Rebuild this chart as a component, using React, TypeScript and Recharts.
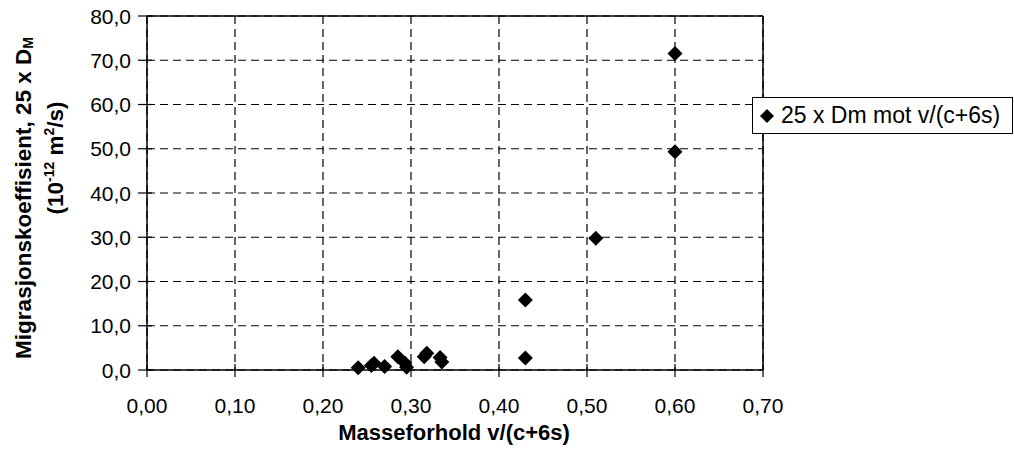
import { ScatterChart, Scatter, XAxis, YAxis, CartesianGrid, ReferenceLine } from "recharts";

const ratio = [0.24, 0.255, 0.258, 0.27, 0.285, 0.293, 0.295, 0.315, 0.318, 0.333, 0.335, 0.43, 0.43, 0.51, 0.6, 0.6];
const coeff = [0.5, 1.0, 1.5, 0.8, 3.0, 1.6, 0.6, 3.0, 3.8, 2.8, 1.8, 15.8, 2.7, 29.8, 71.5, 49.3];
const xTicks = [0, 0.1, 0.2, 0.3, 0.4, 0.5, 0.6, 0.7];
const yTicks = [0, 10, 20, 30, 40, 50, 60, 70, 80];
const seriesName = "25 x Dm mot v/(c+6s)";

const points = ratio.map((r, i) => ({ x: r, y: coeff[i] }));

const FONT = "'Liberation Sans', Arial, sans-serif";

const fmtX = (v: number) => v.toFixed(2).replace(".", ",");
const fmtY = (v: number) => v.toFixed(1).replace(".", ",");

const Diamond = (props: any) => {
  const { cx, cy } = props;
  const r = 7.5;
  return <polygon points={`${cx},${cy - r} ${cx + r},${cy} ${cx},${cy + r} ${cx - r},${cy}`} fill="#000" />;
};

const XTick = (props: any) => {
  const { x, y, payload } = props;
  return (
    <g>
      <line x1={x} x2={x} y1={y - 6} y2={y + 7} stroke="#000" strokeWidth={1.2} />
      <text x={x} y={y + 43} textAnchor="middle" fontSize={21} fontFamily={FONT} fill="#000">
        {fmtX(payload.value)}
      </text>
    </g>
  );
};

const YTick = (props: any) => {
  const { x, y, payload } = props;
  return (
    <g>
      <line x1={x - 9} x2={x + 5} y1={y} y2={y} stroke="#000" strokeWidth={1.2} />
      <text x={x - 16} y={y} dy="0.36em" textAnchor="end" fontSize={21} fontFamily={FONT} fill="#000">
        {fmtY(payload.value)}
      </text>
    </g>
  );
};

const YTitle = () => (
  <g fontFamily={FONT} fontWeight="bold" fontSize={22.5} fill="#000">
    <text transform="translate(31,198) rotate(-90)" textAnchor="middle">
      Migrasjonskoeffisient, 25 x D
      <tspan fontSize={14} dy={2}>M</tspan>
    </text>
    <text transform="translate(63,158) rotate(-90)" textAnchor="middle">
      (10<tspan fontSize={14} dy={-9}>-12</tspan>
      <tspan dy={9}> m</tspan>
      <tspan fontSize={14} dy={-9}>2</tspan>
      <tspan dy={9}>/s)</tspan>
    </text>
  </g>
);

const XTitle = () => (
  <text x={454} y={440} textAnchor="middle" fontFamily={FONT} fontWeight="bold" fontSize={22} fill="#000">
    Masseforhold v/(c+6s)
  </text>
);

const LegendBox = () => (
  <div
    style={{
      position: "absolute",
      left: 752,
      top: 97,
      border: "1.5px solid #000",
      background: "#fff",
      padding: "4px 12px 4px 6px",
      fontFamily: FONT,
      fontSize: 23,
      color: "#000",
      whiteSpace: "nowrap",
      display: "flex",
      alignItems: "center",
    }}
  >
    <svg width={16} height={16} style={{ marginRight: 6 }}>
      <polygon points="8,1 15,8 8,15 1,8" fill="#000" />
    </svg>
    {seriesName}
  </div>
);

export default function App() {
  return (
    <div style={{ position: "absolute", left: 0, top: 0, width: 1014, height: 461, background: "#fff" }}>
      <ScatterChart width={1014} height={461} margin={{ top: 16, right: 251, bottom: 31, left: 87 }}>
        <CartesianGrid stroke="#000" strokeDasharray="8 5" strokeWidth={1.2} />
        <XAxis
          type="number"
          dataKey="x"
          domain={[0, 0.7]}
          ticks={xTicks}
          height={60}
          tickSize={0}
          tickMargin={0}
          tick={<XTick />}
          axisLine={{ stroke: "#000", strokeWidth: 1.5 }}
          tickLine={false}
          interval={0}
        />
        <YAxis
          type="number"
          dataKey="y"
          domain={[0, 80]}
          ticks={yTicks}
          width={60}
          tickSize={0}
          tickMargin={0}
          tick={<YTick />}
          axisLine={{ stroke: "#000", strokeWidth: 1.5 }}
          tickLine={false}
          interval={0}
        />
        <ReferenceLine y={80} stroke="#000" strokeWidth={1.5} />
        <ReferenceLine x={0.7} stroke="#000" strokeWidth={1.5} />
        <Scatter name={seriesName} data={points} fill="#000" shape={<Diamond />} isAnimationActive={false} />
        <YTitle />
        <XTitle />
      </ScatterChart>
      <LegendBox />
    </div>
  );
}
